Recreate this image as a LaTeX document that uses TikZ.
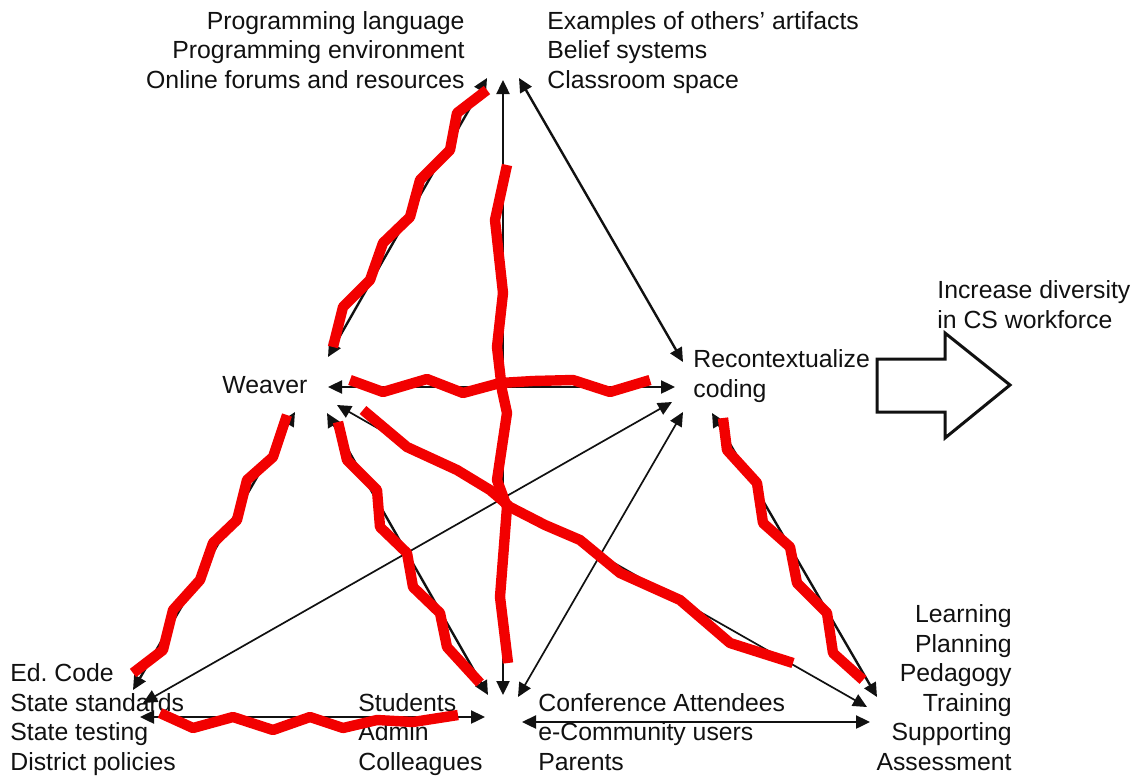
\documentclass[tikz,border=0pt]{standalone}
\usepackage{fontspec}
\setmainfont{Liberation Sans}
\usetikzlibrary{arrows.meta}
\definecolor{inkline}{HTML}{111111}
\definecolor{scrawl}{HTML}{F20000}
\newcommand{\lbl}{\fontsize{12.4pt}{14.75pt}\selectfont}

\begin{document}
\begin{tikzpicture}[
  x=0.5pt, y=-0.5pt,
  font=\lbl,
  >={Triangle[length=7pt,width=6.5pt]},
  txt/.style={inner sep=0pt, text=inkline},
  arr/.style={<->, draw=inkline, line width=1.2pt},
  tarr/.style={<->, draw=inkline, line width=0.85pt},
  scrib/.style={draw=scrawl, line width=5.2pt, line join=round},
  bigarr/.style={draw=inkline, line width=1.5pt, fill=white, line join=miter},
]
\useasboundingbox (0,0) rectangle (1135,776);

% ---- labels (anchored on last baseline) ----
\node[txt, align=right, anchor=base east] (tools) at (465,88)  {Programming language\\Programming environment\\Online forums and resources};
\node[txt, align=left, anchor=base west]  (artif) at (547,88)  {Examples of others' artifacts\\Belief systems\\Classroom space};
\node[txt, anchor=base west] (weaver) at (222,393) {Weaver};
\node[txt, align=left, anchor=base west]  (recon) at (693,397) {Recontextualize\\coding};
\node[txt, align=left, anchor=base west]  (goal)  at (937,328) {Increase diversity\\in CS workforce};
\node[txt, align=left, anchor=base west]  (state) at (10,770)  {Ed.\ Code\\State standards\\State testing\\District policies};
\node[txt, align=left, anchor=base west]  (local) at (358,770) {Students\\Admin\\Colleagues};
\node[txt, align=left, anchor=base west]  (comm)  at (538,770) {Conference Attendees\\e-Community users\\Parents};
\node[txt, align=right, anchor=base east] (teach) at (1012,770) {Learning\\Planning\\Pedagogy\\Training\\Supporting\\Assessment};

% ---- arrow ends ----
\coordinate (tp-w)  at (487,78);
\coordinate (tp-bc) at (503,80);
\coordinate (tp-r)  at (519,78);
\coordinate (wv-tp) at (328,357);
\coordinate (wv-r)  at (328,387);
\coordinate (wv-bl) at (295,412);
\coordinate (wv-bc) at (327,413);
\coordinate (wv-br) at (337,405);
\coordinate (rc-tp) at (683,362);
\coordinate (rc-w)  at (675,387);
\coordinate (rc-bl) at (672,402);
\coordinate (rc-bc) at (683,412);
\coordinate (rc-br) at (712,413);
\coordinate (bl-w)  at (133,690);
\coordinate (bl-r)  at (143,703);
\coordinate (bl-bc) at (140,717);
\coordinate (bc-bl) at (485,717);
\coordinate (bc-w)  at (488,695);
\coordinate (bc-tp) at (503,695);
\coordinate (bc-r)  at (518,697);
\coordinate (bc-br) at (522,722);
\coordinate (br-bc) at (870,722);
\coordinate (br-w)  at (867,707);
\coordinate (br-r)  at (877,697);

% ---- arrows ----
\draw[arr]  (wv-tp) -- (tp-w);
\draw[arr]  (bc-tp) -- (tp-bc);
\draw[arr]  (tp-r) -- (rc-tp);
\draw[arr]  (wv-r) -- (rc-w);
\draw[arr]  (wv-bl) -- (bl-w);
\draw[arr]  (wv-bc) -- (bc-w);
\draw[tarr] (wv-br) -- (br-w);
\draw[tarr] (rc-bl) -- (bl-r);
\draw[tarr] (rc-bc) -- (bc-r);
\draw[arr]  (rc-br) -- (br-r);
\draw[arr]  (bl-bc) -- (bc-bl);
\draw[arr]  (bc-br) -- (br-bc);

% ---- red scribbles ----
\draw[scrib] (487,90) -- (457,113) -- (450,150) -- (420,180) -- (410,217) -- (383,243) -- (370,280) -- (343,307) -- (333,347);
\draw[scrib] (507,165) -- (495,220) -- (503,293) -- (497,347) -- (502,390) -- (507,413) -- (497,480) -- (507,507) -- (500,597) -- (508,663);
\draw[scrib] (350,380) -- (383,392) -- (427,379) -- (463,393) -- (500,383) -- (533,381) -- (573,380) -- (610,392) -- (650,380);
\draw[scrib] (287,415) -- (273,457) -- (247,480) -- (237,520) -- (213,543) -- (200,580) -- (173,610) -- (163,650) -- (133,673);
\draw[scrib] (338,422) -- (347,460) -- (377,490) -- (380,527) -- (407,553) -- (413,587) -- (440,613) -- (447,647) -- (480,683);
\draw[scrib] (363,410) -- (407,447) -- (457,470) -- (490,490) -- (510,507) -- (545,525) -- (580,540) -- (620,573) -- (680,600) -- (730,643) -- (793,663);
\draw[scrib] (723,418) -- (727,450) -- (757,483) -- (763,523) -- (790,547) -- (797,583) -- (827,613) -- (833,653) -- (863,680);
\draw[scrib] (160,713) -- (193,728) -- (233,717) -- (273,730) -- (310,717) -- (343,728) -- (377,720) -- (413,722) -- (458,715);

% ---- outcome arrow ----
\draw[bigarr] (877,359) -- (945,359) -- (945,333) -- (1010,385) -- (945,438) -- (945,412) -- (877,412) -- cycle;

\end{tikzpicture}
\end{document}
